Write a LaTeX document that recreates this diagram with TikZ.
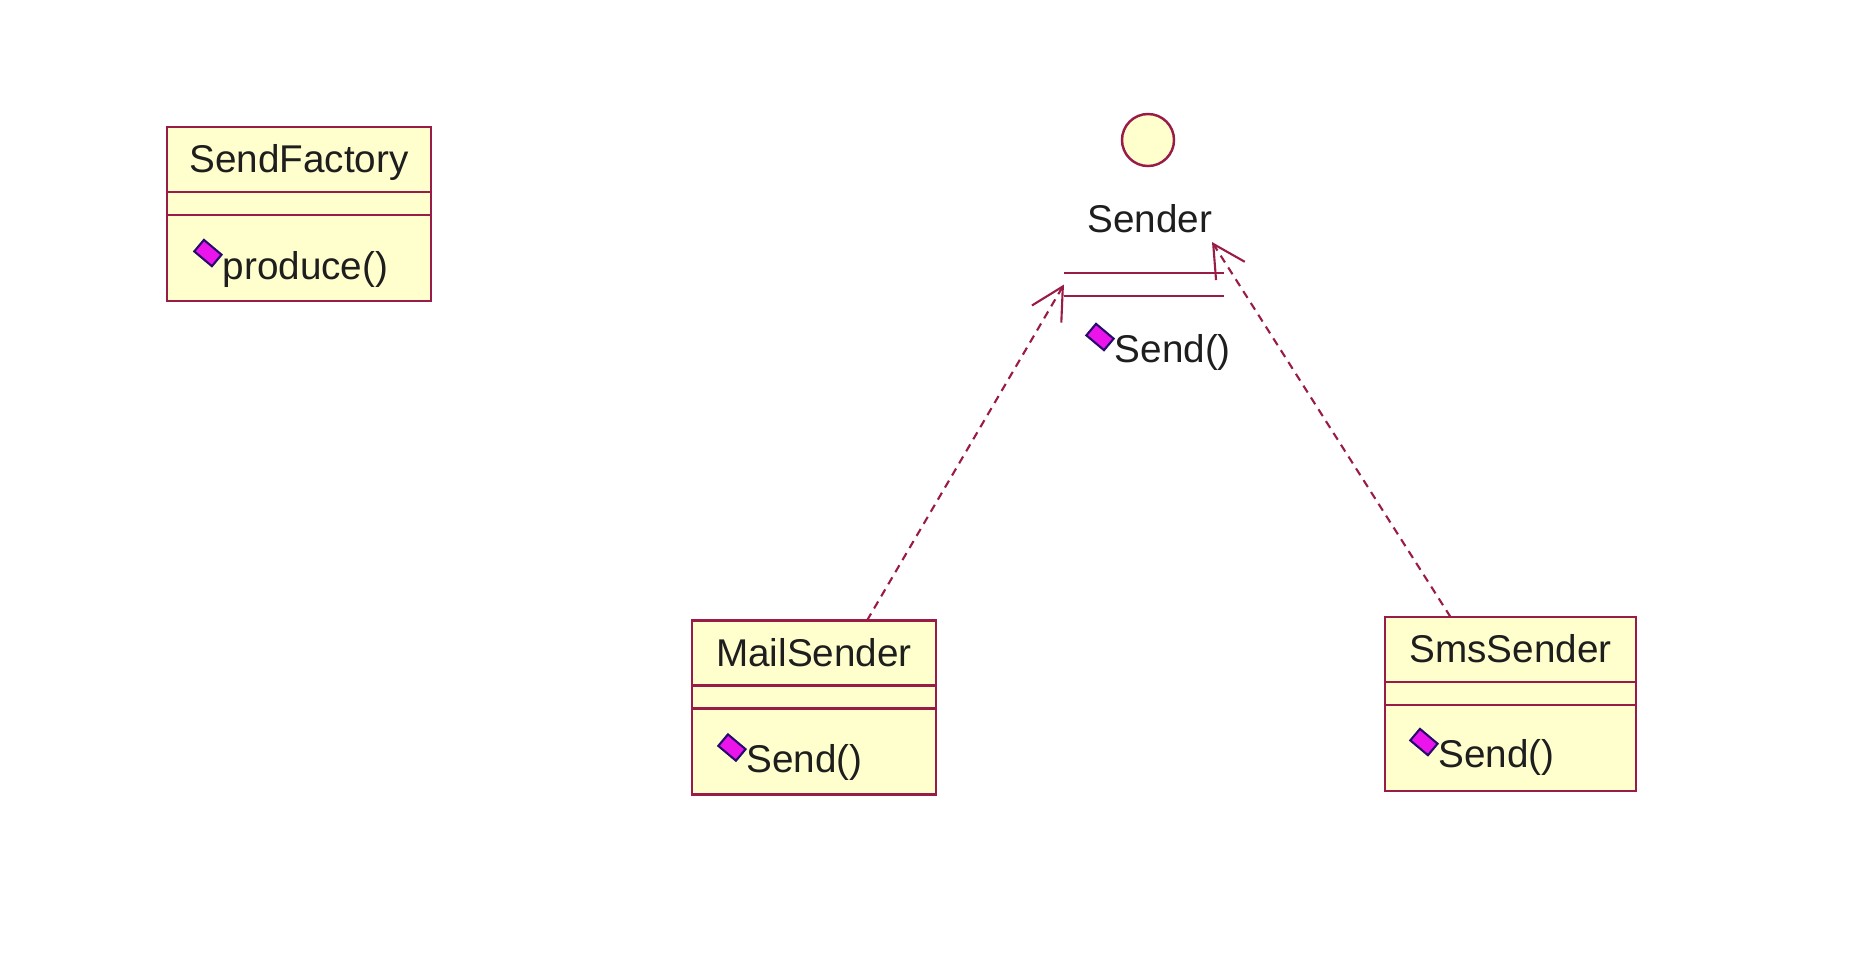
\documentclass[tikz,border=0pt]{standalone}
\usepackage{fontspec}
\setmainfont{Liberation Sans}
\usepackage{tikz}
\usetikzlibrary{positioning,calc,arrows.meta}
\definecolor{umlred}{RGB}{153,27,72}
\definecolor{umlfill}{RGB}{255,255,206}
\definecolor{opmagenta}{RGB}{235,20,235}
\definecolor{opnavy}{RGB}{40,10,110}
\definecolor{textgray}{RGB}{30,30,30}

\begin{document}
\begin{tikzpicture}[x=0.01cm, y=-0.01cm, node distance=0cm, font=\fontsize{11}{13}\selectfont]
    \tikzstyle{compart} = [rectangle, draw=umlred, fill=umlfill, line width=0.75pt, outer sep=0pt, inner sep=0pt, text=textgray]
    \tikzstyle{classname} = [compart, minimum height=0.65cm, text height=1em, text depth=0.25em]
    \tikzstyle{classattr} = [compart, minimum height=0.23cm]
    \tikzstyle{classops} = [compart, minimum height=0.86cm]
    \tikzstyle{opicon} = [rectangle, draw=opnavy, fill=opmagenta, line width=0.6pt, minimum width=0.23cm, minimum height=0.15cm, inner sep=0pt, rotate=-40]
    \tikzstyle{optext} = [anchor=west, inner sep=0pt, text=textgray]
    \tikzstyle{realize} = [draw=umlred, line width=0.6pt, dash pattern=on 0.08cm off 0.06cm, -{Straight Barb[length=0.32cm, width=0.34cm]}]

    \useasboundingbox (0,0) rectangle (1852,966);

    % Factory
    \node [classname, minimum width=2.64cm] (factory) at (299,159.5) {SendFactory};
    \node [classattr, minimum width=2.64cm, below=of factory] (factory_attr) {};
    \node [classops, minimum width=2.64cm, below=of factory_attr] (factory_ops) {};
    \node [opicon] (factory_icon) at ($(factory_ops.north west)+(41,38)$) {};
    \node [optext] (factory_op) at ($(factory_icon)+(14,16)$) {produce()};

    % Interface
    \node [circle, draw=umlred, fill=umlfill, line width=0.7pt, minimum size=0.52cm, inner sep=0pt] (sender_ball) at (1148,140) {};
    \node [text=textgray] (sender) at (1150,219) {Sender};
    \node [minimum width=1.6cm, minimum height=0.23cm, inner sep=0pt, outer sep=0pt] (sender_attr) at (1144,284.5) {};
    \draw [umlred, line width=0.75pt] (sender_attr.north west) -- (sender_attr.north east);
    \draw [umlred, line width=0.75pt] (sender_attr.south west) -- (sender_attr.south east);
    \node [opicon] (sender_icon) at (1100,337) {};
    \node [optext] (sender_op) at ($(sender_icon)+(14,15)$) {Send()};
    \coordinate (sms_tip) at (1212,242);

    % Implementations
    \node [classname, minimum width=2.44cm] (mail) at (814,653) {MailSender};
    \node [classattr, minimum width=2.44cm, below=of mail] (mail_attr) {};
    \node [classops, minimum width=2.44cm, below=of mail_attr] (mail_ops) {};
    \node [opicon] (mail_icon) at ($(mail_ops.north west)+(40,39)$) {};
    \node [optext] (mail_op) at ($(mail_icon)+(14,15)$) {Send()};

    \node [classname, minimum width=2.51cm] (sms) at (1510.5,649.5) {SmsSender};
    \node [classattr, minimum width=2.51cm, below=of sms] (sms_attr) {};
    \node [classops, minimum width=2.51cm, below=of sms_attr] (sms_ops) {};
    \node [opicon] (sms_icon) at ($(sms_ops.north west)+(39,37)$) {};
    \node [optext] (sms_op) at ($(sms_icon)+(14,15)$) {Send()};

    % Arrows
    \draw [realize] ($(mail.north)+(53,0)$) -- (sender_attr.west);
    \draw [realize] ($(sms.north)+(-60,0)$) -- (sms_tip);
\end{tikzpicture}
\end{document}
